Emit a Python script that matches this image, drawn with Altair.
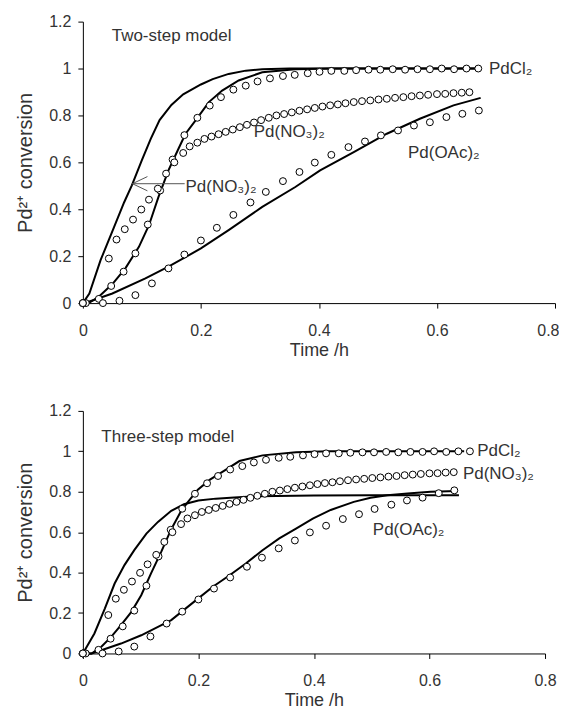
import altair as alt
import pandas as pd

# ---------------- experimental data (open circles) ----------------
cl_t = [0, 0.005, 0.027, 0.048, 0.069, 0.089, 0.11, 0.131, 0.152, 0.172, 0.194, 0.215, 0.234,
        0.255, 0.276, 0.296, 0.317, 0.339, 0.359, 0.381, 0.401, 0.421, 0.443, 0.463, 0.484,
        0.504, 0.525, 0.546, 0.567, 0.588, 0.608, 0.629, 0.65, 0.67]
cl_y = [0, 0, 0.018, 0.073, 0.134, 0.212, 0.335, 0.48, 0.612, 0.716, 0.79, 0.842, 0.878,
        0.91, 0.927, 0.945, 0.958, 0.968, 0.973, 0.98, 0.986, 0.99, 0.99, 0.993, 0.995,
        0.995, 0.997, 0.995, 0.997, 0.997, 1.0, 0.997, 1.0, 1.0]

no3_t = [0, 0.044, 0.057, 0.071, 0.085, 0.099, 0.112, 0.127, 0.141, 0.155, 0.17, 0.181, 0.194,
         0.206, 0.218, 0.23, 0.242, 0.254, 0.266, 0.278, 0.29, 0.302, 0.315, 0.328, 0.341,
         0.354, 0.367, 0.38, 0.393, 0.406, 0.419, 0.432, 0.445, 0.459, 0.473, 0.487, 0.501,
         0.515, 0.529, 0.543, 0.557, 0.571, 0.585, 0.60, 0.614, 0.628, 0.642, 0.655]
no3_y = [0, 0.19, 0.271, 0.315, 0.356, 0.399, 0.441, 0.488, 0.552, 0.60, 0.64, 0.668, 0.684,
         0.70, 0.71, 0.72, 0.73, 0.74, 0.75, 0.76, 0.77, 0.78, 0.79, 0.80, 0.806,
         0.813, 0.82, 0.826, 0.832, 0.838, 0.843, 0.847, 0.852, 0.857, 0.861, 0.864, 0.868,
         0.871, 0.875, 0.878, 0.882, 0.885, 0.888, 0.891, 0.892, 0.895, 0.897, 0.899]

oac_t = [0, 0.034, 0.062, 0.089, 0.117, 0.145, 0.172, 0.2, 0.227, 0.255, 0.284, 0.31, 0.339,
         0.367, 0.393, 0.421, 0.45, 0.478, 0.505, 0.534, 0.561, 0.588, 0.616, 0.643, 0.671]
oac_y = [0, 0.0, 0.01, 0.034, 0.084, 0.148, 0.207, 0.267, 0.321, 0.376, 0.429, 0.474, 0.52,
         0.559, 0.599, 0.632, 0.665, 0.689, 0.715, 0.736, 0.757, 0.771, 0.793, 0.807, 0.821]

# ---------------- two-step model curves ----------------
m2_cl_t = [0, 0.01, 0.027, 0.05, 0.072, 0.095, 0.112, 0.128, 0.145, 0.162, 0.174, 0.191, 0.2135,
           0.236, 0.264, 0.304, 0.36, 0.42, 0.5, 0.6, 0.67]
m2_cl_y = [0, 0.0, 0.027, 0.081, 0.148, 0.24, 0.332, 0.452, 0.566, 0.658, 0.722, 0.779, 0.857,
           0.906, 0.949, 0.984, 0.997, 1.0, 1.0, 1.0, 1.0]
m2_no3_t = [0, 0.011, 0.03, 0.053, 0.07, 0.083, 0.1, 0.115, 0.13, 0.15, 0.17, 0.2, 0.22, 0.247,
            0.276, 0.304, 0.35, 0.4, 0.5, 0.6, 0.67]
m2_no3_y = [0, 0.041, 0.183, 0.325, 0.43, 0.502, 0.61, 0.7, 0.78, 0.845, 0.89, 0.932, 0.955, 0.977,
            0.991, 0.997, 1.0, 1.0, 1.0, 1.0, 1.0]
m2_oac_t = [0, 0.01, 0.05, 0.106, 0.145, 0.2, 0.247, 0.304, 0.36, 0.402, 0.459, 0.515, 0.571,
            0.628, 0.674]
m2_oac_y = [0, 0.006, 0.041, 0.105, 0.155, 0.233, 0.311, 0.41, 0.495, 0.566, 0.644, 0.722, 0.786,
            0.843, 0.875]

# ---------------- three-step model curves ----------------
m3_cl_t = [0, 0.015, 0.032, 0.049, 0.066, 0.084, 0.101, 0.118, 0.136, 0.153, 0.17, 0.182, 0.199,
           0.22, 0.245, 0.271, 0.311, 0.369, 0.426, 0.5, 0.6, 0.66]
m3_cl_y = [0, 0, 0.033, 0.082, 0.14, 0.206, 0.288, 0.396, 0.505, 0.615, 0.705, 0.75, 0.81,
           0.86, 0.905, 0.952, 0.98, 0.995, 1.0, 1.0, 1.0, 1.0]
m3_no3_t = [0, 0.02, 0.038, 0.055, 0.072, 0.089, 0.11, 0.13, 0.153, 0.175, 0.2, 0.23, 0.262,
            0.303, 0.4, 0.5, 0.6, 0.651]
m3_no3_y = [0, 0.099, 0.222, 0.346, 0.437, 0.511, 0.593, 0.651, 0.706, 0.738, 0.757, 0.766, 0.772,
            0.778, 0.782, 0.783, 0.783, 0.783]
m3_oac_t = [0, 0.015, 0.032, 0.066, 0.101, 0.136, 0.153, 0.196, 0.225, 0.254, 0.282, 0.311, 0.34,
            0.369, 0.398, 0.429, 0.469, 0.498, 0.527, 0.562, 0.602, 0.648]
m3_oac_y = [0, 0, 0.016, 0.049, 0.09, 0.14, 0.165, 0.264, 0.33, 0.387, 0.445, 0.511, 0.569,
            0.618, 0.667, 0.71, 0.75, 0.77, 0.783, 0.791, 0.80, 0.804]

# ---------------- annotation text ----------------
top_label_text = ["Two-step model", "PdCl₂", "Pd(NO₃)₂", "Pd(NO₃)₂", "Pd(OAc)₂"]
top_label_x = [0.049, 0.688, 0.2896, 0.174, 0.551]
top_label_y = [1.14, 1.0, 0.728, 0.494, 0.638]
arrow_x = [0.084, 0.1725]
arrow_y = [0.509, 0.509]

bot_label_text = ["Three-step model", "PdCl₂", "Pd(NO₃)₂", "Pd(OAc)₂"]
bot_label_x = [0.032, 0.6826, 0.658, 0.502]
bot_label_y = [1.073, 1.004, 0.89, 0.613]

x_ticks = [0, 0.2, 0.4, 0.6, 0.8]
y_ticks = [0, 0.2, 0.4, 0.6, 0.8, 1.0, 1.2]

FONT = "Liberation Sans"


def long_df(pairs):
    rows = []
    for name, ts, ys in pairs:
        for t, y in zip(ts, ys):
            rows.append({"series": name, "t": t, "y": y})
    return pd.DataFrame(rows)


def xenc(keep_inside=False):
    extra = {}
    if keep_inside:
        # keep the right-most tick label inside the page
        extra = dict(
            labelAlign={"condition": {"test": "datum.value >= 0.79", "value": "right"}, "value": "center"},
            labelOffset={"condition": {"test": "datum.value >= 0.79", "value": 4}, "value": 0},
        )
    return alt.X("t:Q", scale=alt.Scale(domain=[0, 0.8], nice=False),
                 axis=alt.Axis(values=x_ticks, format="~g", title="Time /h", labelFlush=False, **extra))


def yenc():
    return alt.Y("y:Q", scale=alt.Scale(domain=[0, 1.2], nice=False),
                 axis=alt.Axis(values=y_ticks, format="~g", title="Pd²⁺ conversion", labelFlush=False))


def panel(model_pairs, exp_pairs, lab_text, lab_x, lab_y, w, h, arrow=None, keep_inside=False):
    X = lambda: xenc(keep_inside)
    lines = alt.Chart(long_df(model_pairs)).mark_line(
        color="black", strokeWidth=2
    ).encode(x=X(), y=yenc(), detail="series:N")
    pts = alt.Chart(long_df(exp_pairs)).mark_point(
        shape="circle", filled=True, fill="white", stroke="black",
        strokeWidth=1, size=48, opacity=1
    ).encode(x=X(), y=yenc(), detail="series:N")
    labs = alt.Chart(pd.DataFrame({"t": lab_x, "y": lab_y, "label": lab_text})).mark_text(
        align="left", baseline="middle", fontSize=17, font=FONT, color="#333"
    ).encode(x=X(), y=yenc(), text="label:N")
    layers = [lines, pts, labs]
    if arrow is not None:
        adf = pd.DataFrame({"t": arrow[0], "y": arrow[1]})
        shaft = alt.Chart(adf).mark_line(color="#555", strokeWidth=1).encode(x=X(), y=yenc())
        head = alt.Chart(adf.iloc[[0]]).mark_point(
            shape="M-1,0L1,-0.95M-1,0L1,0.95", filled=False, stroke="#555",
            strokeWidth=1, size=225, xOffset=7.5, opacity=1
        ).encode(x=X(), y=yenc())
        layers += [shaft, head]
    return alt.layer(*layers).properties(width=w, height=h)


top = panel(
    [("cl", m2_cl_t, m2_cl_y), ("no3", m2_no3_t, m2_no3_y), ("oac", m2_oac_t, m2_oac_y)],
    [("cl", cl_t, cl_y), ("no3", no3_t, no3_y), ("oac", oac_t, oac_y)],
    top_label_text, top_label_x, top_label_y, 473, 282, arrow=(arrow_x, arrow_y), keep_inside=True)

bottom = panel(
    [("cl", m3_cl_t, m3_cl_y), ("no3", m3_no3_t, m3_no3_y), ("oac", m3_oac_t, m3_oac_y)],
    [("cl", cl_t, cl_y), ("no3", no3_t[:-1], no3_y[:-1]), ("oac", oac_t[:-1], oac_y[:-1])],
    bot_label_text, bot_label_x, bot_label_y, 463, 243)

chart = alt.vconcat(top, bottom, spacing=44).properties(
    padding={"left": 7, "top": 5, "right": 0, "bottom": 0}
).configure_view(stroke=None).configure_axis(
    grid=False, domainColor="black", tickColor="black", tickSize=5,
    labelFont=FONT, labelFontSize=16, labelColor="#333",
    titleFont=FONT, titleColor="#333", titleFontWeight="normal",
).configure_axisX(
    labelPadding=14, titlePadding=3, titleFontSize=18
).configure_axisY(
    labelPadding=7, titlePadding=13, titleFontSize=20
)

chart.save("out.html", embed_options={"renderer": "svg", "actions": False})
